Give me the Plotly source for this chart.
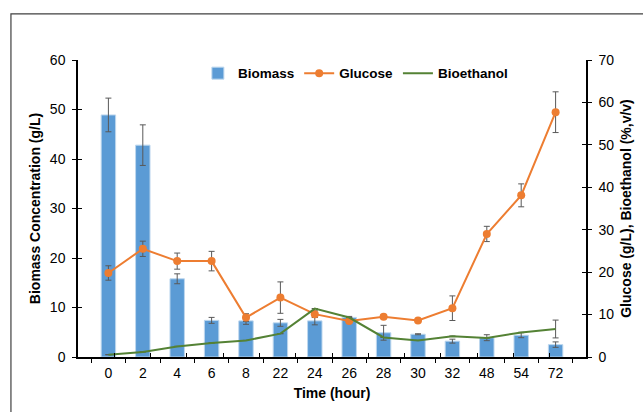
import plotly.graph_objects as go

time_labels = ["0", "2", "4", "6", "8", "22", "24", "26", "28", "30", "32", "48", "54", "72"]

biomass = [48.9, 42.8, 15.8, 7.4, 7.3, 6.9, 7.3, 8.0, 4.9, 4.6, 3.2, 3.9, 4.4, 2.5]
biomass_err = [3.4, 4.1, 1.0, 0.6, 0.7, 0.7, 0.8, 0.2, 1.5, 0.1, 0.4, 0.6, 0.5, 0.55]

glucose = [19.8, 25.5, 22.6, 22.6, 9.3, 14.0, 10.1, 8.5, 9.5, 8.6, 11.5, 29.0, 38.1, 57.7]
glucose_err = [1.7, 1.8, 1.9, 2.3, 0.9, 3.7, 0.8, 0.3, 0.4, 0.3, 2.9, 1.8, 2.7, 4.8]

bioethanol = [0.55, 1.2, 2.5, 3.3, 3.9, 5.5, 11.4, 9.3, 4.6, 3.9, 4.9, 4.5, 5.8, 6.6]
bioethanol_err = [0, 0, 0, 0, 0, 0, 0, 0, 0, 0, 0, 0, 0, 2.1]

FONT = "Liberation Sans, Arial, sans-serif"
ERR = "#595959"

fig = go.Figure()
fig.add_trace(go.Bar(
    x=time_labels, y=biomass, name="<b>Biomass</b>",
    marker=dict(color="#5B9BD5", line=dict(color="#BDD7EE", width=1)),
    width=0.42,
    error_y=dict(type="data", array=biomass_err, color=ERR, thickness=1, width=3),
    yaxis="y",
))
fig.add_trace(go.Scatter(
    x=time_labels, y=glucose, name="<b>Glucose</b>", mode="lines+markers",
    line=dict(color="#ED7D31", width=2),
    marker=dict(color="#ED7D31", size=8),
    error_y=dict(type="data", array=glucose_err, color=ERR, thickness=1, width=3),
    yaxis="y2",
))
fig.add_trace(go.Scatter(
    x=time_labels, y=bioethanol, name="<b>Bioethanol</b>", mode="lines",
    line=dict(color="#548235", width=2),
    error_y=dict(type="data", array=bioethanol_err, color=ERR, thickness=1, width=3),
    yaxis="y2",
))

AX = dict(showline=True, linecolor="#000000", linewidth=1.5, ticks="outside", ticklen=4,
          tickcolor="#000000", tickwidth=1.2, showgrid=False, zeroline=False,
          automargin=False, tickfont=dict(size=14))

fig.update_layout(
    width=643, height=412,
    margin=dict(l=78, r=57, t=60, b=55),
    paper_bgcolor="white", plot_bgcolor="white",
    font=dict(family=FONT, size=14, color="#000000"),
    showlegend=True,
    legend=dict(orientation="h", x=0.236, y=0.955, xanchor="left", yanchor="middle",
                font=dict(size=13.5, color="#000000"),
                bgcolor="rgba(0,0,0,0)", traceorder="normal"),
    xaxis=dict(
        type="category", tickson="boundaries", ticklabelstandoff=2,
        title=dict(text="<b>Time (hour)</b>", font=dict(size=14), standoff=9),
        **AX,
    ),
    yaxis=dict(
        range=[0, 60], dtick=10, ticklabelstandoff=4,
        title=dict(text="<b>Biomass Concentration (g/L)</b>", font=dict(size=14), standoff=6),
        **AX,
    ),
    yaxis2=dict(
        range=[0, 70], dtick=10, overlaying="y", side="right", ticklabelstandoff=4,
        title=dict(text="<b>Glucose (g/L), Bioethanol (%,v/v)</b>", font=dict(size=14), standoff=8),
        **AX,
    ),
    # inner halves of the crossing tick marks
    yaxis3=dict(range=[0, 60], dtick=10, overlaying="y", side="left", showline=False,
                ticks="inside", ticklen=4, tickcolor="#000000", tickwidth=1.2,
                showticklabels=False, showgrid=False, zeroline=False, automargin=False),
    yaxis4=dict(range=[0, 70], dtick=10, overlaying="y", side="right", showline=False,
                ticks="inside", ticklen=4, tickcolor="#000000", tickwidth=1.2,
                showticklabels=False, showgrid=False, zeroline=False, automargin=False),
    xaxis2=dict(type="category", categoryarray=time_labels, categoryorder="array",
                range=[-0.5, len(time_labels) - 0.5], overlaying="x", side="bottom",
                anchor="y", tickson="boundaries", ticks="inside", ticklen=4,
                tickcolor="#000000", tickwidth=1.2, showticklabels=False, showline=False,
                showgrid=False, zeroline=False, automargin=False),
    shapes=[dict(type="rect", xref="paper", yref="paper",
                 x0=-0.132, x1=1.12, y0=-0.2, y1=1.155,
                 line=dict(color="#404040", width=1.2), fillcolor="rgba(0,0,0,0)")],
)

# invisible helper traces so the overlay axes draw their inner tick halves
fig.add_trace(go.Scatter(x=time_labels, y=[None] * len(time_labels), xaxis="x2", yaxis="y3",
                         showlegend=False, hoverinfo="skip", mode="markers"))
fig.add_trace(go.Scatter(x=[None], y=[None], xaxis="x", yaxis="y4",
                         showlegend=False, hoverinfo="skip", mode="markers"))

fig.write_html("out.html",
               config={"displayModeBar": False},
               post_script="document.body.style.margin='0';document.body.style.overflow='hidden';")
